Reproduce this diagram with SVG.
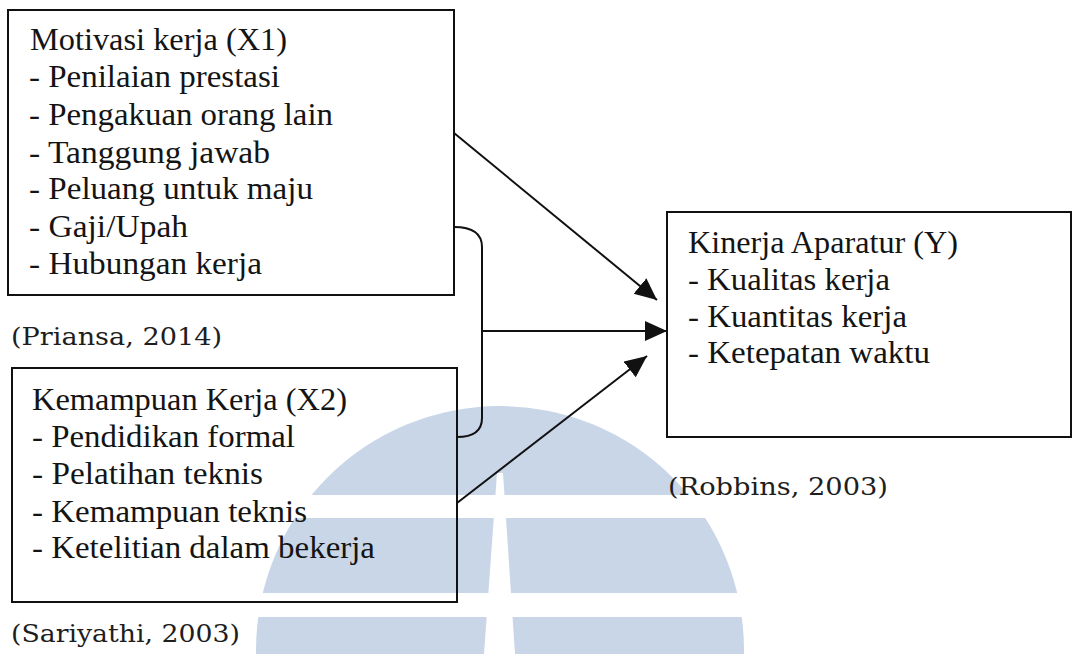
<svg xmlns="http://www.w3.org/2000/svg" width="1074" height="654" viewBox="0 0 1074 654">
  <style>
    .box { fill: none; stroke: #111; stroke-width: 2; }
    .t { font-size: 31px; fill: #141414; }
    .cite { font-size: 25px; fill: #1e1e1e; }
    .conn { fill: none; stroke: #111; stroke-width: 2; }
    .wm { fill: #c8d6e8; }
    .gap { fill: #ffffff; }
  </style>
  <defs>
    <marker id="arrow" markerUnits="userSpaceOnUse" markerWidth="24" markerHeight="22" refX="22" refY="10" orient="auto">
      <path d="M0,0 L22,10 L0,20 Z" fill="#111"/>
    </marker>
  </defs>
  <rect x="0" y="0" width="1074" height="654" fill="#ffffff"/>

  <g id="watermark">
    <circle class="wm" cx="500" cy="650" r="244"/>
    <rect class="gap" x="240" y="495" width="520" height="23"/>
    <rect class="gap" x="240" y="593" width="520" height="24"/>
    <polygon class="gap" points="497,473 503,473 515,654 484,654"/>
  </g>

  <g id="node-x1" font-family="Liberation Serif, Times New Roman, serif">
    <rect class="box" x="8" y="10" width="446" height="285"/>
    <text class="t" x="30" y="50" textLength="257" lengthAdjust="spacingAndGlyphs">Motivasi kerja (X1)</text>
    <text class="t" x="29" y="87" textLength="251" lengthAdjust="spacingAndGlyphs">- Penilaian prestasi</text>
    <text class="t" x="29" y="125" textLength="304" lengthAdjust="spacingAndGlyphs">- Pengakuan orang lain</text>
    <text class="t" x="29" y="163" textLength="241" lengthAdjust="spacingAndGlyphs">- Tanggung jawab</text>
    <text class="t" x="29" y="199" textLength="284" lengthAdjust="spacingAndGlyphs">- Peluang untuk maju</text>
    <text class="t" x="29" y="237" textLength="159" lengthAdjust="spacingAndGlyphs">- Gaji/Upah</text>
    <text class="t" x="29" y="274" textLength="233" lengthAdjust="spacingAndGlyphs">- Hubungan kerja</text>
  </g>
  <g id="cite-x1" font-family="DejaVu Serif, serif">
    <text class="cite" x="11" y="345" textLength="211" lengthAdjust="spacingAndGlyphs">(Priansa, 2014)</text>
  </g>

  <g id="node-x2" font-family="Liberation Serif, Times New Roman, serif">
    <rect class="box" x="12" y="368" width="445" height="234"/>
    <text class="t" x="32" y="410" textLength="315" lengthAdjust="spacingAndGlyphs">Kemampuan Kerja (X2)</text>
    <text class="t" x="32" y="447" textLength="263" lengthAdjust="spacingAndGlyphs">- Pendidikan formal</text>
    <text class="t" x="32" y="484" textLength="231" lengthAdjust="spacingAndGlyphs">- Pelatihan teknis</text>
    <text class="t" x="32" y="522" textLength="275" lengthAdjust="spacingAndGlyphs">- Kemampuan teknis</text>
    <text class="t" x="32" y="558" textLength="343" lengthAdjust="spacingAndGlyphs">- Ketelitian dalam bekerja</text>
  </g>
  <g id="cite-x2" font-family="DejaVu Serif, serif">
    <text class="cite" x="11" y="642" textLength="229" lengthAdjust="spacingAndGlyphs">(Sariyathi, 2003)</text>
  </g>

  <g id="node-y" font-family="Liberation Serif, Times New Roman, serif">
    <rect class="box" x="667" y="212" width="404" height="225"/>
    <text class="t" x="688" y="253" textLength="270" lengthAdjust="spacingAndGlyphs">Kinerja Aparatur (Y)</text>
    <text class="t" x="688" y="290" textLength="202" lengthAdjust="spacingAndGlyphs">- Kualitas kerja</text>
    <text class="t" x="688" y="327" textLength="219" lengthAdjust="spacingAndGlyphs">- Kuantitas kerja</text>
    <text class="t" x="688" y="363" textLength="242" lengthAdjust="spacingAndGlyphs">- Ketepatan waktu</text>
  </g>
  <g id="cite-y" font-family="DejaVu Serif, serif">
    <text class="cite" x="668" y="495" textLength="220" lengthAdjust="spacingAndGlyphs">(Robbins, 2003)</text>
  </g>

  <g id="connectors">
    <line class="conn" x1="454" y1="133" x2="657" y2="300" marker-end="url(#arrow)"/>
    <path class="conn" d="M454,227 Q482,227 482,247 L482,418 Q482,437 457,437"/>
    <line class="conn" x1="482" y1="331" x2="667" y2="331" marker-end="url(#arrow)"/>
    <line class="conn" x1="457" y1="503" x2="647" y2="356" marker-end="url(#arrow)"/>
  </g>
</svg>
